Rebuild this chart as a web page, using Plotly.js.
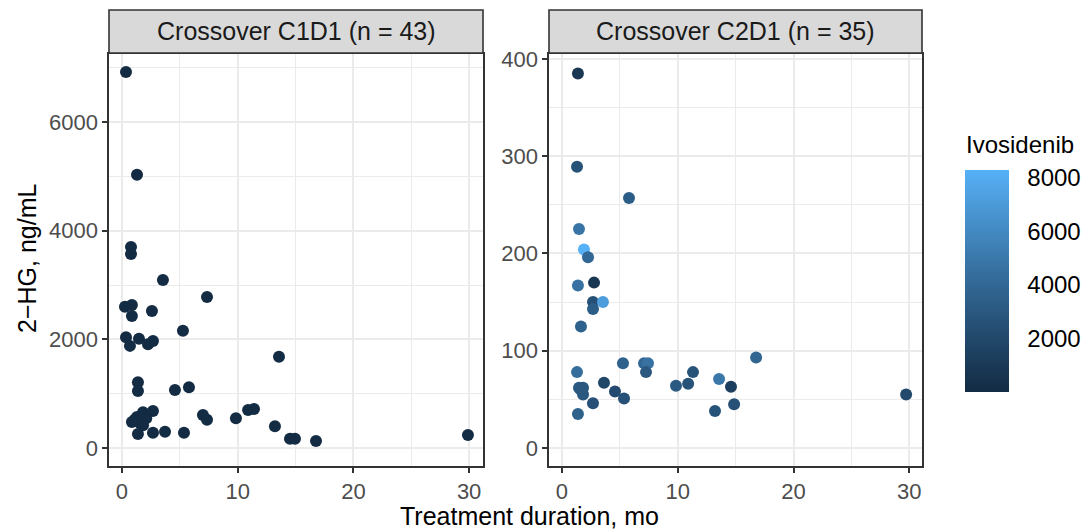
<!DOCTYPE html>
<html>
<head>
<meta charset="utf-8">
<script src="https://cdn.plot.ly/plotly-3.0.1.min.js"></script>
<style>html,body{margin:0;padding:0;background:#fff;}#chart{width:1089px;height:531px;}</style>
</head>
<body>
<div id="chart"></div>
<script>
// ---- Data ----
const panelTitles = ["Crossover C1D1 (n = 43)", "Crossover C2D1 (n = 35)"];

const c1Duration = [0.35,1.3,0.78,0.78,3.54,7.35,0.26,0.86,0.86,2.59,5.27,0.35,0.69,1.47,2.25,2.68,13.57,1.38,1.38,4.58,5.79,1.3,1.82,2.68,0.86,1.56,1.82,7.0,7.35,9.85,10.9,11.41,13.22,14.52,14.95,1.38,2.68,3.72,5.36,29.9,16.77,1.1,2.1];
const c1HG       = [6920,5030,3700,3570,3090,2780,2600,2630,2430,2520,2160,2040,1880,2010,1910,1970,1680,1210,1050,1070,1120,570,660,680,480,460,420,610,520,550,700,720,400,170,170,260,280,300,280,240,130,520,550];
const c1Ivo      = [0,0,0,0,0,0,0,0,0,0,0,0,0,0,0,0,0,0,0,0,0,0,0,0,0,0,0,0,0,0,0,0,0,0,0,0,0,0,0,0,0,0,0];

const c2Duration = [1.38,1.3,5.79,1.47,1.9,2.25,1.38,2.77,2.68,3.54,2.68,1.64,1.3,5.27,7.09,7.43,7.26,1.47,1.82,1.82,3.63,4.58,5.36,2.68,1.38,9.85,10.9,11.32,13.57,14.6,13.22,14.87,16.77,29.73,1.6];
const c2HG       = [385,289,257,225,204,196,167,170,150,150,143,125,78,87,87,87,78,62,62,55,67,58,51,46,35,64,66,78,71,63,38,45,93,55,60];
const c2Ivo      = [900,2600,3300,4800,8300,4000,4600,800,2500,7200,3300,3600,4400,3600,4000,4600,3000,3200,3000,3000,1900,2200,2500,2500,3600,3100,2700,2700,5000,1400,2700,2500,3900,2100,3000];

const xTicks = [0,10,20,30];
const yTicksLeft = [0,2000,4000,6000];
const yTicksRight = [0,100,200,300,400];
const colorTicks = [2000,4000,6000,8000];
const colorMin = 0, colorMax = 8300;

// ---- ggplot-like Lab gradient ----
function hexToRgb(h){return [parseInt(h.slice(1,3),16),parseInt(h.slice(3,5),16),parseInt(h.slice(5,7),16)];}
function lin(c){c/=255;return c<=0.04045?c/12.92:Math.pow((c+0.055)/1.055,2.4);}
function unlin(c){c=c<=0.0031308?12.92*c:1.055*Math.pow(c,1/2.4)-0.055;return Math.max(0,Math.min(255,Math.round(c*255)));}
const Xn=0.95047,Yn=1,Zn=1.08883;
function f(t){return t>0.008856?Math.cbrt(t):7.787*t+16/116;}
function finv(t){return t>0.206893?t*t*t:(t-16/116)/7.787;}
function toLab(hex){const [r,g,b]=hexToRgb(hex).map(lin);
  const X=r*0.4124+g*0.3576+b*0.1805,Y=r*0.2126+g*0.7152+b*0.0722,Z=r*0.0193+g*0.1192+b*0.9505;
  const fx=f(X/Xn),fy=f(Y/Yn),fz=f(Z/Zn);return [116*fy-16,500*(fx-fy),200*(fy-fz)];}
function fromLab(L,a,b){const fy=(L+16)/116,fx=fy+a/500,fz=fy-b/200;
  const X=Xn*finv(fx),Y=Yn*finv(fy),Z=Zn*finv(fz);
  const r=X*3.2406+Y*-1.5372+Z*-0.4986,g=X*-0.9689+Y*1.8758+Z*0.0415,bb=X*0.0557+Y*-0.2040+Z*1.0570;
  return 'rgb('+unlin(r)+','+unlin(g)+','+unlin(bb)+')';}
const lowLab=toLab('#132B43'),highLab=toLab('#56B1F7');
const colorscale=[];
for(let i=0;i<=10;i++){const t=i/10;colorscale.push([t,fromLab(lowLab[0]+(highLab[0]-lowLab[0])*t,lowLab[1]+(highLab[1]-lowLab[1])*t,lowLab[2]+(highLab[2]-lowLab[2])*t)]);}

// ---- Geometry ----
const W=1089,H=531;
const px=v=>v/W, py=v=>(H-v)/H;
const leftX=[109,483], rightX=[549,922];
const plotTop=54, plotBottom=466, stripTop=10, stripBottom=53;
const cbLeft=965, cbThick=44, cbTop=170, cbBottom=392;
const FONT='Liberation Sans, Arial, sans-serif';

const tickFont={family:FONT,size:22,color:'#4D4D4D'};
function axisCommon(){return {
  showgrid:true,gridcolor:'#EBEBEB',gridwidth:2,zeroline:false,
  ticks:'outside',ticklen:5,tickwidth:2,tickcolor:'#333333',tickfont:tickFont,
  showline:true,mirror:true,linecolor:'#333333',linewidth:1.6,
};}

const traces=[
  {type:'scatter',mode:'markers',x:c1Duration,y:c1HG,xaxis:'x',yaxis:'y',
   marker:{size:12,color:c1Ivo,coloraxis:'coloraxis',line:{width:0}},hoverinfo:'x+y',showlegend:false},
  {type:'scatter',mode:'markers',x:c2Duration,y:c2HG,xaxis:'x2',yaxis:'y2',
   marker:{size:12,color:c2Ivo,coloraxis:'coloraxis',line:{width:0}},hoverinfo:'x+y',showlegend:false}
];

const layout={
  width:W,height:H,margin:{l:0,r:0,t:0,b:0},paper_bgcolor:'#fff',plot_bgcolor:'#fff',
  font:{family:FONT},
  showlegend:false,
  xaxis:Object.assign(axisCommon(),{domain:[px(leftX[0]),px(leftX[1])],range:[-1.12,31.2],tickvals:xTicks,anchor:'y',
    minor:{dtick:5,tick0:0,showgrid:true,gridcolor:'#EBEBEB',gridwidth:1,ticks:''}}),
  yaxis:Object.assign(axisCommon(),{domain:[py(plotBottom),py(plotTop)],range:[-330,7250],tickvals:yTicksLeft,anchor:'x',
    minor:{dtick:1000,tick0:0,showgrid:true,gridcolor:'#EBEBEB',gridwidth:1,ticks:''}}),
  xaxis2:Object.assign(axisCommon(),{domain:[px(rightX[0]),px(rightX[1])],range:[-1.12,31.1],tickvals:xTicks,anchor:'y2',
    minor:{dtick:5,tick0:0,showgrid:true,gridcolor:'#EBEBEB',gridwidth:1,ticks:''}}),
  yaxis2:Object.assign(axisCommon(),{domain:[py(plotBottom),py(plotTop)],range:[-18.5,405],tickvals:yTicksRight,anchor:'x2',
    minor:{dtick:50,tick0:0,showgrid:true,gridcolor:'#EBEBEB',gridwidth:1,ticks:''}}),
  coloraxis:{cmin:colorMin,cmax:colorMax,colorscale:colorscale,
    colorbar:{x:px(cbLeft),xanchor:'left',xpad:0,ypad:0,y:py((cbTop+cbBottom)/2),yanchor:'middle',
      len:cbBottom-cbTop,lenmode:'pixels',thickness:cbThick,thicknessmode:'pixels',outlinewidth:0,
      tickvals:colorTicks,ticks:'outside',ticklen:14,tickwidth:1,tickcolor:'rgba(0,0,0,0)',
      tickfont:{family:FONT,size:24,color:'#000'},
      title:{text:''}}},
  shapes:[
    {type:'rect',xref:'paper',yref:'paper',x0:px(leftX[0]),x1:px(leftX[1]),y0:py(stripBottom),y1:py(stripTop),fillcolor:'#D9D9D9',line:{color:'#333333',width:1.6},layer:'above'},
    {type:'rect',xref:'paper',yref:'paper',x0:px(rightX[0]),x1:px(rightX[1]),y0:py(stripBottom),y1:py(stripTop),fillcolor:'#D9D9D9',line:{color:'#333333',width:1.6},layer:'above'}
  ],
  annotations:[
    {xref:'paper',yref:'paper',x:px((leftX[0]+leftX[1])/2),y:py((stripTop+stripBottom)/2),text:panelTitles[0],showarrow:false,xanchor:'center',yanchor:'middle',font:{family:FONT,size:25,color:'#1A1A1A'}},
    {xref:'paper',yref:'paper',x:px((rightX[0]+rightX[1])/2),y:py((stripTop+stripBottom)/2),text:panelTitles[1],showarrow:false,xanchor:'center',yanchor:'middle',font:{family:FONT,size:25,color:'#1A1A1A'}},
    {xref:'paper',yref:'paper',x:px(529),y:py(516),text:'Treatment duration, mo',showarrow:false,xanchor:'center',yanchor:'middle',font:{family:FONT,size:25,color:'#000'}},
    {xref:'paper',yref:'paper',x:px(27),y:py(259),text:'2\u2212HG, ng/mL',textangle:-90,showarrow:false,xanchor:'center',yanchor:'middle',font:{family:FONT,size:25,color:'#000'}},
    {xref:'paper',yref:'paper',x:px(964),y:py(144),text:'Ivosidenib',showarrow:false,xanchor:'left',yanchor:'middle',font:{family:FONT,size:24,color:'#000'}}
  ]
};

Plotly.newPlot('chart',traces,layout,{displayModeBar:false,staticPlot:true});
</script>
</body>
</html>
